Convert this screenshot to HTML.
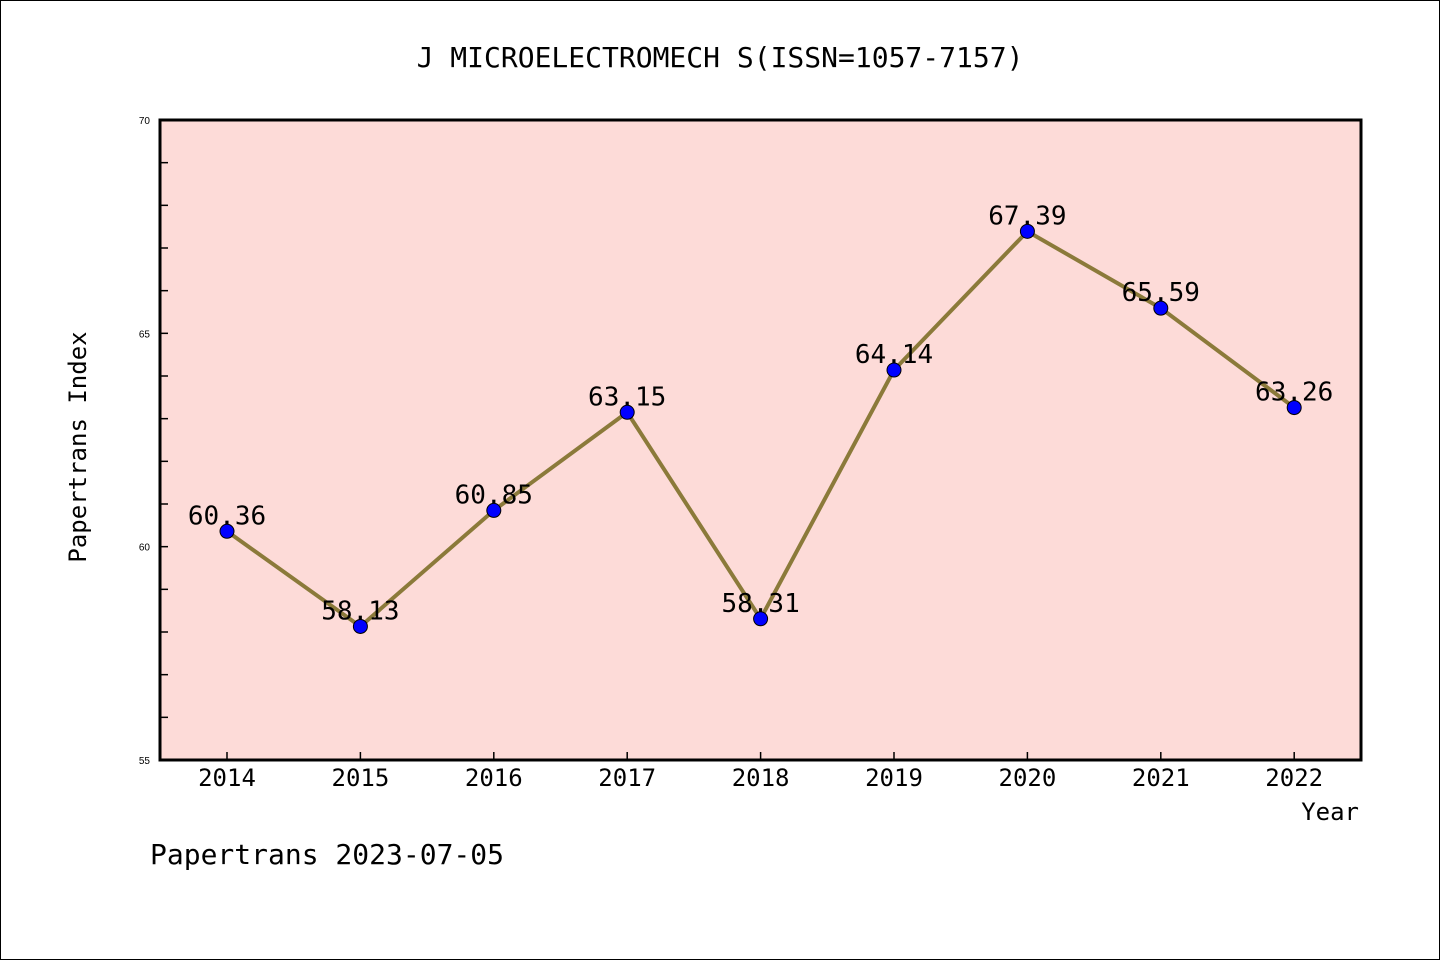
<!DOCTYPE html>
<html><head><meta charset="utf-8"><style>
body{margin:0;background:#fff}
svg{display:block;font-family:"Liberation Sans","WenQuanYi Zen Hei",sans-serif}
</style></head><body>
<svg id="c" width="1440" height="960" xmlns="http://www.w3.org/2000/svg">
<rect x="0.5" y="0.5" width="1439" height="959" fill="#fff" stroke="#000"/>
<text x="720" y="67" text-anchor="middle" font-size="28" font-family="'WenQuanYi Zen Hei',monospace">J MICROELECTROMECH S(ISSN=1057-7157)</text>
<rect x="160" y="120" width="1201" height="640" fill="#fddbd8"/>
<g id="ticks"></g>
<g id="series"></g>
<rect x="160" y="120" width="1201" height="640" fill="none" stroke="#000" stroke-width="3"/>
<text x="86" y="447" text-anchor="middle" font-size="24" font-family="'WenQuanYi Zen Hei',monospace" transform="rotate(-90 86 447)">Papertrans Index</text>
<text x="1359" y="820" text-anchor="end" font-size="24" font-family="'WenQuanYi Zen Hei',monospace">Year</text>
<text x="150" y="864" font-size="28" font-family="'WenQuanYi Zen Hei',monospace">Papertrans 2023-07-05</text>
</svg>
<script>
const years=[2014,2015,2016,2017,2018,2019,2020,2021,2022];
const values=[60.36,58.13,60.85,63.15,58.31,64.14,67.39,65.59,63.26];
const yTickLabels=[55,60,65,70];
const NS="http://www.w3.org/2000/svg";
const x=i=>227+i*133.4;
const y=v=>760-(v-55)*(640/15);
function el(t,a,p){const e=document.createElementNS(NS,t);for(const k in a)e.setAttribute(k,a[k]);p.appendChild(e);return e;}
const tg=document.getElementById('ticks'),sg=document.getElementById('series');
for(let v=55;v<=70;v++){
 const t=el('line',{x1:160,x2:168,y1:y(v),y2:y(v),stroke:'#000','stroke-width':1.5},tg);
 
 
}
yTickLabels.forEach(v=>{
 const t=el('text',{x:150,y:y(v)+4,'text-anchor':'end','font-size':10},tg);t.textContent=v;
 
 
});
years.forEach((yr,i)=>{
 const t=el('line',{x1:x(i),x2:x(i),y1:760,y2:752,stroke:'#000','stroke-width':1.5},tg);
 
 
 const l=el('text',{x:x(i),y:786,'text-anchor':'middle','font-size':24,'font-family':"'WenQuanYi Zen Hei',monospace"},tg);l.textContent=yr;
 
 
});
const line=el('polyline',{points:values.map((v,i)=>x(i)+','+y(v)).join(' '),fill:'none',stroke:'#8b7a3a','stroke-width':4},sg);


values.forEach((v,i)=>{
 const c=el('circle',{cx:x(i),cy:y(v),r:7,fill:'#0000ff',stroke:'#000','stroke-width':1},sg);
 
 
 const t=el('text',{x:x(i),y:y(v)-7,'text-anchor':'middle','font-size':26,'font-family':"'WenQuanYi Zen Hei',monospace"},sg);t.textContent=v.toFixed(2);
 
 
});
</script>
</body></html>
